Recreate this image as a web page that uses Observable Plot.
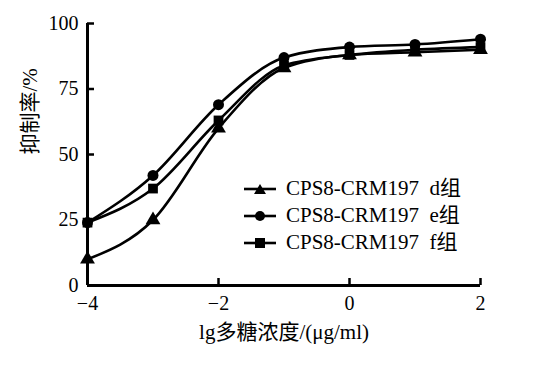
<!DOCTYPE html>
<html><head><meta charset="utf-8">
<script src="https://cdn.jsdelivr.net/npm/d3@7"></script>
<script src="https://cdn.jsdelivr.net/npm/@observablehq/plot@0.6"></script>
<style>
body{margin:0;background:#fff;}
#wrap{position:relative;width:542px;height:366px;}
#wrap, #wrap svg, #wrap text, .legend, .legend span{font-family:'Liberation Serif','Times New Roman',Times,'Noto Sans CJK SC',serif !important;}
.legend{position:absolute;left:244px;top:175px;font-size:21px;line-height:27px;color:#000;}
.legend div{display:flex;align-items:center;white-space:pre;}
.legend svg{margin-right:10px;}
</style></head><body><div id="wrap"></div>
<script>
const doses = [-4, -3, -2, -1, 0, 1, 2];
const groupD = [10, 25, 60, 83, 88, 89, 90];
const groupE = [24, 42, 69, 87, 91, 92, 94];
const groupF = [24, 37, 63, 84, 88, 90, 91];
const seriesNames = ["CPS8-CRM197  d组", "CPS8-CRM197  e组", "CPS8-CRM197  f组"];
const seriesSymbols = ["triangle", "circle", "square"];
const xTicks = [-4, -2, 0, 2];
const yTicks = [0, 25, 50, 75, 100];
const xLabel = "lg多糖浓度/(μg/ml)";
const yLabel = "抑制率/%";

const allSeries = [groupD, groupE, groupF];
const rows = [];
allSeries.forEach((vals, i) => vals.forEach((v, j) => rows.push({x: doses[j], y: v, s: seriesNames[i], sym: seriesSymbols[i]})));

const fmt = d => d < 0 ? "−" + Math.abs(d) : String(d);

const chart = Plot.plot({
  width: 542, height: 366,
  marginLeft: 87, marginRight: 62, marginTop: 23, marginBottom: 81,
  style: {fontSize: "20px", color: "#000", background: "#fff"},
  x: {domain: [-4, 2]},
  y: {domain: [0, 100]},
  symbol: {domain: seriesSymbols, range: seriesSymbols},
  marks: [
    Plot.axisX({ticks: xTicks, tickFormat: fmt, tickSize: -7, tickPadding: 17, strokeWidth: 2.5, label: null}),
    Plot.axisY({ticks: yTicks, tickSize: -7, tickPadding: 16, strokeWidth: 2.5, label: null}),
    Plot.text([xLabel], {frameAnchor: "bottom", dy: 47, lineAnchor: "middle", fontSize: 21}),
    Plot.text([yLabel], {frameAnchor: "left", dx: -57, rotate: -90, lineAnchor: "middle", fontSize: 21}),
    Plot.ruleX([-4], {strokeWidth: 3}),
    Plot.ruleY([0], {strokeWidth: 3}),
    Plot.line(rows, {x: "x", y: "y", z: "s", curve: "monotone-x", stroke: "#000", strokeWidth: 2.6}),
    Plot.dot(rows, {x: "x", y: "y", symbol: "sym", fill: "#000", r: 5.5})
  ]
});
document.getElementById("wrap").appendChild(chart);

const leg = document.createElement("div");
leg.className = "legend";
const symPaths = {
  triangle: '<path d="M16,2 L22,12 L10,12 Z"/>',
  circle: '<circle cx="16" cy="7" r="5"/>',
  square: '<rect x="11" y="2" width="10" height="10"/>'
};
seriesNames.forEach((n, i) => {
  const row = document.createElement("div");
  row.innerHTML = `<svg width="32" height="14"><line x1="0" x2="32" y1="7" y2="7" stroke="#000" stroke-width="2.6"/><g fill="#000">${symPaths[seriesSymbols[i]]}</g></svg><span>${n}</span>`;
  leg.appendChild(row);
});
document.getElementById("wrap").appendChild(leg);
</script>
</body></html>
